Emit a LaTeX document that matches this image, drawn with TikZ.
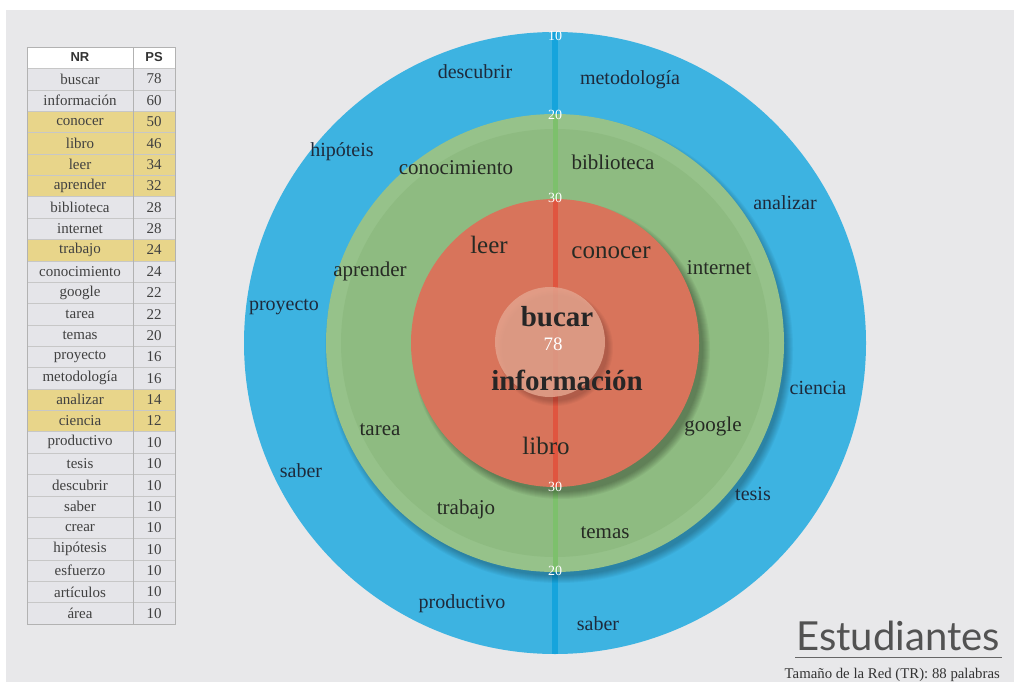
\documentclass[tikz,border=0pt]{standalone}
\usepackage{fontspec}
\setmainfont{Liberation Serif}
\newfontfamily\hdfont{Liberation Sans}
\newfontfamily\titfont{Lato}
\definecolor{sfondo}{HTML}{E8E8EA}
\definecolor{celeste}{HTML}{3DB3E1}
\definecolor{celesteL}{HTML}{16A4DC}
\definecolor{verde}{HTML}{8EBB81}
\definecolor{verdeB}{HTML}{96C28A}
\definecolor{verdeL}{HTML}{7DC06C}
\definecolor{rosso}{HTML}{D8745B}
\definecolor{rossoL}{HTML}{E0553F}
\definecolor{rosa}{HTML}{E3A38D}
\definecolor{riga}{HTML}{E5E5E9}
\definecolor{giallo}{HTML}{E8D58A}
\definecolor{testo}{HTML}{262A24}
\definecolor{testoB}{HTML}{1E2A3B}

\begin{document}
\begin{tikzpicture}[x=1pt, y=-1pt,
    cella/.style={font=\fontsize{15}{16}\selectfont, text=black!75, inner sep=0pt},
    testata/.style={font=\hdfont\bfseries\fontsize{13}{14}\selectfont, text=black!80, inner sep=0pt},
    parolaB/.style={font=\fontsize{20}{22}\selectfont, text=testoB, inner sep=0pt},
    parolaV/.style={font=\fontsize{21}{23}\selectfont, text=testo, inner sep=0pt},
    parolaR/.style={font=\fontsize{25}{27}\selectfont, text=testo, inner sep=0pt},
    centro/.style={font=\bfseries\fontsize{29}{31}\selectfont, text=black!85, inner sep=0pt},
    tacca/.style={font=\fontsize{14}{14}\selectfont, text=white, inner sep=0pt}]
    \useasboundingbox (0,0) rectangle (1014,682);
    % Sfondo
    \fill[white] (0,0) rectangle (1014,10);
    \fill[sfondo] (6,10) rectangle (1014,682);
    \coordinate (c) at (555,343);

    % Tabella
    \fill[white] (27,47) rectangle (175,68.4);
    \node[testata] (nr0) at (80,57.5) {NR};
    \node[testata] (ps0) at (154,57.5) {PS};
    \foreach [count=\i] \w/\n/\g in {buscar/78/riga, información/60/riga, conocer/50/giallo,
        libro/46/giallo, leer/34/giallo, aprender/32/giallo, biblioteca/28/riga,
        internet/28/riga, trabajo/24/giallo, conocimiento/24/riga, google/22/riga,
        tarea/22/riga, temas/20/riga, proyecto/16/riga, metodología/16/riga,
        analizar/14/giallo, ciencia/12/giallo, productivo/10/riga, tesis/10/riga,
        descubrir/10/riga, saber/10/riga, crear/10/riga, hipótesis/10/riga,
        esfuerzo/10/riga, artículos/10/riga, área/10/riga} {
        \pgfmathsetmacro\yt{47+21.37*\i}
        \fill[\g] (27,\yt) rectangle (175,\yt+21.37);
        \draw[black!22] (27,\yt) -- (175,\yt);
        \node[cella] (nr\i) at (80,\yt+10.7) {\w};
        \node[cella] (ps\i) at (154,\yt+10.7) {\n};
    }
    \draw[black!30] (27,47) rectangle (175,624.6);
    \draw[black!30] (133,47) -- (133,624.6);

    % Anello esterno
    \fill[celeste] (c) circle (311pt);
    \draw[celesteL, line width=6pt] ([shift={(0,-311)}]c) -- ([shift={(0,311)}]c);

    % Anello intermedio (con ombra)
    \foreach \k in {1,...,8} {
        \pgfmathsetmacro\rr{226+\k}
        \fill[black, opacity=0.035] ([shift={(4,6)}]c) circle (\rr pt);
    }
    \fill[verdeB] (c) circle (229pt);
    \fill[verde] (c) circle (214pt);
    \draw[verdeL, line width=5pt] ([shift={(0,-229)}]c) -- ([shift={(0,229)}]c);

    % Cerchio interno (con ombra)
    \foreach \k in {1,...,8} {
        \pgfmathsetmacro\rr{141+\k}
        \fill[black, opacity=0.045] ([shift={(6,7)}]c) circle (\rr pt);
    }
    \fill[rosso] (c) circle (144pt);
    \draw[rossoL, line width=5pt] ([shift={(0,-144)}]c) -- ([shift={(0,144)}]c);

    % Centro
    \foreach \k in {1,...,6} {
        \pgfmathsetmacro\rr{52+\k}
        \fill[black, opacity=0.03] (555,348) circle (\rr pt);
    }
    \fill[rosa, opacity=0.85] (550,342) circle (55pt);

    % Tacche
    \node[tacca] (t10) at (555,36) {10};
    \node[tacca] (t20a) at (555,115) {20};
    \node[tacca] (t30a) at (555,198) {30};
    \node[tacca] (t30b) at (555,487) {30};
    \node[tacca] (t20b) at (555,571) {20};

    % Parole anello esterno
    \node[parolaB] (descubrir) at (475,72) {descubrir};
    \node[parolaB] (metodologia) at (630,80) {metodología};
    \node[parolaB] (hipoteis) at (342,152) {hipóteis};
    \node[parolaB] (analizar) at (785,203) {analizar};
    \node[parolaB] (proyecto) at (284,307) {proyecto};
    \node[parolaB] (ciencia) at (818,388) {ciencia};
    \node[parolaB] (saberA) at (301,471) {saber};
    \node[parolaB] (tesis) at (753,494) {tesis};
    \node[parolaB] (productivo) at (462,604) {productivo};
    \node[parolaB] (saberB) at (598,624) {saber};

    % Parole anello intermedio
    \node[parolaV] (conocimiento) at (456,168) {conocimiento};
    \node[parolaV] (biblioteca) at (613,162) {biblioteca};
    \node[parolaV] (aprender) at (370,271) {aprender};
    \node[parolaV] (internet) at (719,268) {internet};
    \node[parolaV] (tarea) at (380,430) {tarea};
    \node[parolaV] (google) at (713,426) {google};
    \node[parolaV] (trabajo) at (466,509) {trabajo};
    \node[parolaV] (temas) at (605,533) {temas};

    % Parole cerchio interno
    \node[parolaR] (leer) at (489,245) {leer};
    \node[parolaR] (conocer) at (611,253) {conocer};
    \node[parolaR] (libro) at (546,446) {libro};

    % Centro
    \node[centro] (bucar) at (557,317) {bucar};
    \node[font=\fontsize{19}{20}\selectfont, text=white, inner sep=0pt] (n78) at (553,344) {78};
    \node[centro] (informacion) at (567,380) {información};

    % Titolo
    \node[font=\titfont\fontsize{40}{40}\selectfont, text=black!68, anchor=base east, inner sep=0pt] (titolo) at (1000,650) {Estudiantes};
    \draw[black!60, line width=0.8pt] (795,657.5) -- (1002,657.5);
    \node[font=\fontsize{14.8}{15}\selectfont, text=black!80, anchor=base east, inner sep=0pt] (tamano) at (1000,678) {Tamaño de la Red (TR): 88 palabras};
\end{tikzpicture}
\end{document}
